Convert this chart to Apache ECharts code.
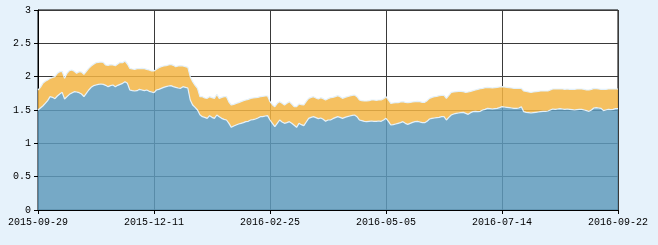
<!DOCTYPE html>
<html>
<head>
<meta charset="utf-8">
<script src="https://cdn.jsdelivr.net/npm/echarts@6/dist/echarts.min.js"></script>
<style>
html,body{margin:0;padding:0;background:#e6f2fb;}
#c{width:658px;height:245px;}
</style>
</head>
<body>
<div id="c"></div>
<script>
// Trading-day calendar (Chinese market) from 2015-09-29 to 2016-09-22
var startDate = '2015-09-29';
var endDate = '2016-09-22';
var holidays = ['2015-10-01','2015-10-02','2015-10-05','2015-10-06','2015-10-07',
  '2016-01-01','2016-02-08','2016-02-09','2016-02-10','2016-02-11','2016-02-12',
  '2016-04-04','2016-05-02','2016-06-09','2016-06-10','2016-09-15','2016-09-16'];

var yTicks = [0, 0.5, 1, 1.5, 2, 2.5, 3];

// Bottom (blue) series values
var baseValues = [
1.50,1.53,1.56,1.60,1.64,1.70,1.69,1.67,1.71,1.74,
1.765,1.665,1.70,1.735,1.755,1.775,1.77,1.76,1.74,1.70,
1.75,1.80,1.84,1.865,1.875,1.885,1.89,1.885,1.87,1.85,
1.865,1.875,1.85,1.87,1.885,1.90,1.925,1.90,1.80,1.79,
1.785,1.79,1.81,1.80,1.79,1.80,1.78,1.77,1.76,1.80,
1.81,1.825,1.84,1.85,1.86,1.865,1.85,1.84,1.83,1.825,
1.85,1.84,1.83,1.65,1.575,1.54,1.50,1.43,1.40,1.39,
1.375,1.415,1.39,1.375,1.425,1.40,1.375,1.36,1.35,1.30,
1.24,1.26,1.275,1.29,1.30,1.31,1.325,1.33,1.35,1.355,
1.365,1.38,1.40,1.40,1.41,1.415,1.35,1.30,1.25,1.30,
1.35,1.32,1.30,1.31,1.325,1.30,1.27,1.24,1.30,1.28,
1.265,1.32,1.375,1.39,1.40,1.385,1.37,1.38,1.36,1.33,
1.35,1.35,1.37,1.385,1.40,1.39,1.375,1.39,1.40,1.41,
1.42,1.425,1.40,1.35,1.34,1.33,1.325,1.33,1.335,1.33,
1.33,1.335,1.33,1.35,1.375,1.33,1.275,1.28,1.29,1.30,
1.31,1.325,1.30,1.285,1.30,1.315,1.325,1.33,1.32,1.31,
1.31,1.33,1.365,1.375,1.38,1.385,1.39,1.40,1.40,1.35,
1.39,1.425,1.44,1.45,1.455,1.46,1.465,1.45,1.435,1.46,
1.475,1.48,1.475,1.48,1.50,1.51,1.525,1.52,1.515,1.52,
1.525,1.535,1.55,1.545,1.54,1.535,1.53,1.525,1.525,1.53,
1.55,1.475,1.465,1.46,1.455,1.46,1.465,1.47,1.475,1.48,
1.48,1.485,1.50,1.515,1.51,1.515,1.52,1.515,1.51,1.515,
1.51,1.505,1.50,1.505,1.51,1.51,1.50,1.49,1.48,1.50,
1.53,1.535,1.53,1.525,1.49,1.50,1.51,1.505,1.51,1.52,
1.52
];

// Stacked (orange) series values
var upperValues = [
0.30,0.31,0.34,0.33,0.31,0.275,0.30,0.33,0.34,0.335,
0.315,0.31,0.35,0.355,0.345,0.305,0.28,0.315,0.33,0.335,
0.33,0.325,0.32,0.32,0.335,0.33,0.33,0.33,0.305,0.32,
0.315,0.30,0.315,0.32,0.33,0.31,0.31,0.29,0.325,0.325,
0.325,0.33,0.31,0.325,0.33,0.31,0.32,0.315,0.325,0.31,
0.325,0.325,0.32,0.315,0.315,0.32,0.32,0.31,0.33,0.34,
0.31,0.31,0.31,0.35,0.35,0.33,0.325,0.27,0.30,0.29,
0.30,0.285,0.295,0.30,0.31,0.275,0.315,0.34,0.35,0.32,
0.335,0.325,0.325,0.32,0.325,0.33,0.325,0.33,0.325,0.325,
0.32,0.31,0.30,0.305,0.30,0.295,0.275,0.28,0.30,0.30,
0.275,0.28,0.275,0.29,0.30,0.29,0.28,0.31,0.29,0.30,
0.31,0.31,0.30,0.30,0.30,0.295,0.295,0.305,0.31,0.32,
0.32,0.335,0.32,0.315,0.315,0.31,0.30,0.30,0.30,0.30,
0.30,0.30,0.30,0.30,0.30,0.305,0.31,0.31,0.315,0.32,
0.315,0.315,0.32,0.32,0.325,0.32,0.325,0.325,0.32,0.31,
0.31,0.30,0.315,0.325,0.315,0.305,0.30,0.30,0.305,0.305,
0.305,0.31,0.31,0.315,0.32,0.32,0.325,0.32,0.32,0.325,
0.33,0.34,0.33,0.325,0.325,0.32,0.31,0.315,0.335,0.32,
0.315,0.32,0.335,0.34,0.325,0.325,0.315,0.315,0.315,0.315,
0.315,0.31,0.30,0.30,0.30,0.30,0.30,0.30,0.30,0.295,
0.275,0.31,0.315,0.31,0.31,0.31,0.31,0.31,0.31,0.305,
0.305,0.30,0.30,0.30,0.305,0.30,0.295,0.30,0.30,0.30,
0.30,0.305,0.31,0.31,0.305,0.305,0.31,0.31,0.32,0.31,
0.295,0.285,0.285,0.285,0.32,0.31,0.305,0.31,0.305,0.295,
0.295
];

function pad(n){return n<10?'0'+n:''+n;}
function buildDates(){
  var out=[];
  var d=new Date(startDate+'T00:00:00Z');
  var e=new Date(endDate+'T00:00:00Z');
  while(d<=e){
    var s=d.getUTCFullYear()+'-'+pad(d.getUTCMonth()+1)+'-'+pad(d.getUTCDate());
    var wd=d.getUTCDay();
    if(wd!==0 && wd!==6 && holidays.indexOf(s)<0) out.push(s);
    d=new Date(d.getTime()+86400000);
  }
  return out;
}
var categories = buildDates();

var chart = echarts.init(document.getElementById('c'), null, {renderer:'canvas'});
var labelFont = {fontFamily:'Liberation Mono, DejaVu Sans Mono, monospace', fontSize:10, color:'#000'};
chart.setOption({
  animation:false,
  backgroundColor:'#e6f2fb',
  grid:{left:38,right:40,top:10,bottom:35,show:true,backgroundColor:'#ffffff',borderColor:'#000',borderWidth:1},
  xAxis:{
    type:'category',
    data:categories,
    boundaryGap:false,
    axisLine:{lineStyle:{color:'#000',width:1}},
    axisTick:{show:true,interval:47,length:4,lineStyle:{color:'#000'}},
    axisLabel:Object.assign({interval:47,margin:7,showMaxLabel:true},labelFont),
    splitLine:{show:true,interval:47,lineStyle:{color:'#3a3a3a',width:1}}
  },
  yAxis:{
    type:'value',
    min:yTicks[0],max:yTicks[yTicks.length-1],interval:0.5,
    axisLine:{show:true,lineStyle:{color:'#000',width:1}},
    axisTick:{show:true,length:4,lineStyle:{color:'#000'}},
    axisLabel:Object.assign({margin:7,formatter:function(v){return String(v);}},labelFont),
    splitLine:{show:true,lineStyle:{color:'#3a3a3a',width:1}}
  },
  series:[
    {type:'line',stack:'s',data:baseValues,symbol:'none',
     lineStyle:{color:'#e4f1fa',width:1.2},
     areaStyle:{color:'#5e9abc',opacity:0.85}},
    {type:'line',stack:'s',data:upperValues,symbol:'none',
     lineStyle:{color:'#e4f1fa',width:1.2},
     areaStyle:{color:'#f3b544',opacity:0.85}}
  ]
});
</script>
</body>
</html>
